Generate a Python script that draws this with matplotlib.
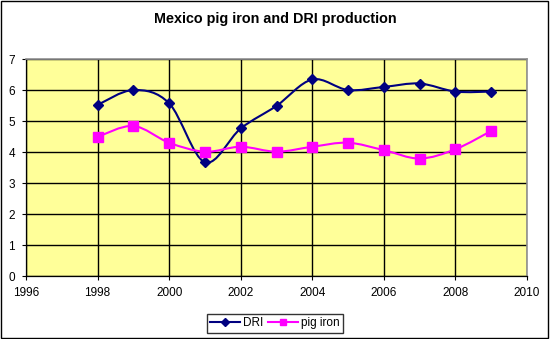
import matplotlib
matplotlib.use("Agg")
import matplotlib.pyplot as plt
from matplotlib.path import Path
from matplotlib.patches import PathPatch, Rectangle
from matplotlib.lines import Line2D

plt.rcParams['font.family'] = ['Liberation Sans', 'DejaVu Sans']

years = [1998, 1999, 2000, 2001, 2002, 2003, 2004, 2005, 2006, 2007, 2008, 2009]
dri = [5.52, 6.0, 5.57, 3.67, 4.76, 5.49, 6.34, 6.0, 6.1, 6.21, 5.95, 5.95]
pig_iron = [4.49, 4.84, 4.3, 4.01, 4.17, 4.01, 4.17, 4.3, 4.06, 3.79, 4.09, 4.68]
title = "Mexico pig iron and DRI production"
x_ticks = [1996, 1998, 2000, 2002, 2004, 2006, 2008, 2010]
y_ticks = [0, 1, 2, 3, 4, 5, 6, 7]


def smooth_path(xs, ys):
    pts = list(zip(xs, ys))
    n = len(pts)
    verts = [pts[0]]
    codes = [Path.MOVETO]
    for i in range(n - 1):
        p0 = pts[i - 1] if i > 0 else pts[i]
        p1 = pts[i]
        p2 = pts[i + 1]
        p3 = pts[i + 2] if i + 2 < n else pts[i + 1]
        c1 = (p1[0] + (p2[0] - p0[0]) / 6.0, p1[1] + (p2[1] - p0[1]) / 6.0)
        c2 = (p2[0] - (p3[0] - p1[0]) / 6.0, p2[1] - (p3[1] - p1[1]) / 6.0)
        verts += [c1, c2, p2]
        codes += [Path.CURVE4] * 3
    return Path(verts, codes)


fig = plt.figure(figsize=(5.5, 3.39), dpi=100)
fig.patch.set_facecolor('white')
fig.patches.append(Rectangle((0.001, 0.003), 0.995, 0.995, transform=fig.transFigure,
                             fill=False, edgecolor='#000000', linewidth=1.0))

ax = fig.add_axes([0.0473, 0.1858, 0.9109, 0.6401])
ax.set_facecolor('#FFFF99')
ax.set_xlim(1996, 2010)
ax.set_ylim(0, 7)
ax.set_xticks(x_ticks)
ax.set_yticks(y_ticks)
ax.grid(True, color='black', linewidth=1.0)
ax.set_axisbelow(True)
ax.tick_params(direction='out', length=3, width=0.8, labelsize=8.5)
ax.tick_params(axis='x', pad=5)
ax.tick_params(axis='y', pad=5)
for s in ['top', 'right']:
    ax.spines[s].set_color('#909090')
    ax.spines[s].set_linewidth(1.2)
for s in ['left', 'bottom']:
    ax.spines[s].set_color('black')
    ax.spines[s].set_linewidth(0.9)

dri_color = '#000080'
pig_color = '#FF00FF'

ax.add_patch(PathPatch(smooth_path(years, dri), fill=False, edgecolor=dri_color, linewidth=1.5, zorder=3))
ax.plot(years, dri, linestyle='none', marker='D', markersize=5.5, color=dri_color, zorder=4)
ax.add_patch(PathPatch(smooth_path(years, pig_iron), fill=False, edgecolor=pig_color, linewidth=1.5, zorder=3))
ax.plot(years, pig_iron, linestyle='none', marker='s', markersize=6.5, color=pig_color, zorder=4)

fig.text(0.5, 0.944, title, ha='center', va='center', fontsize=10.4, fontweight='bold')

handles = [Line2D([], [], color=dri_color, marker='D', markersize=4, linewidth=1.5),
           Line2D([], [], color=pig_color, marker='s', markersize=5, linewidth=1.5)]
leg = fig.legend(handles, ['DRI', 'pig iron'], loc='center', bbox_to_anchor=(0.5, 0.046),
                 ncol=2, fontsize=8.5, frameon=True, fancybox=False, handlelength=2.5,
                 handletextpad=0.3, columnspacing=0.4, borderpad=0.3, borderaxespad=0)
leg.get_frame().set_edgecolor('black')
leg.get_frame().set_linewidth(1.0)

fig.savefig('out.png', dpi=100)
